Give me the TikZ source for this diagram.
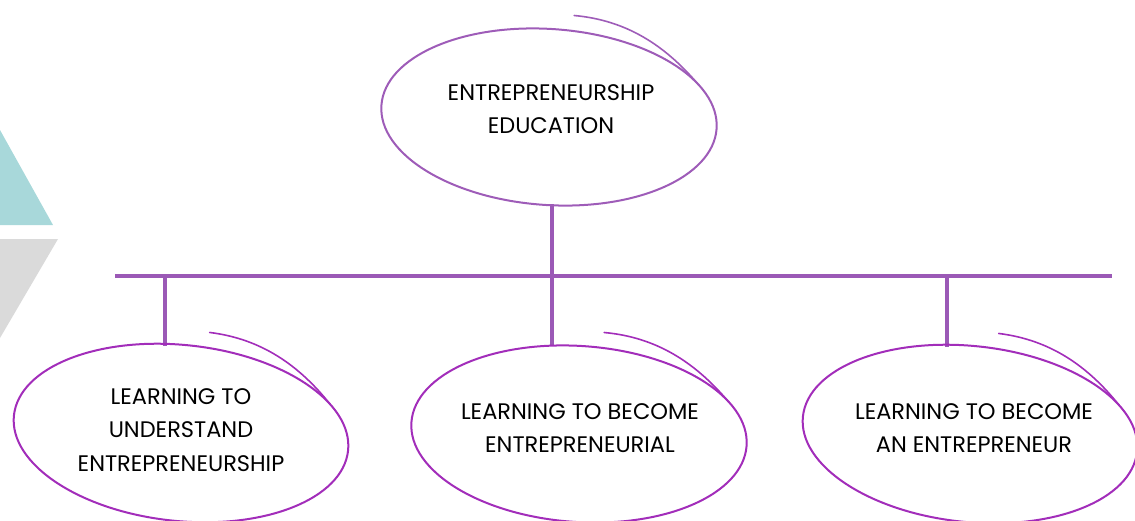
\documentclass[tikz,border=0pt]{standalone}
\usepackage{fontspec}
\setmainfont{Poppins}
\usetikzlibrary{shapes.geometric,calc}
\definecolor{teal1}{HTML}{A8D8DA}
\definecolor{gray1}{HTML}{DADADA}
\definecolor{bar}{HTML}{9B59B6}
\definecolor{ringA}{HTML}{9E5CB8}
\definecolor{ringB}{HTML}{A22DBA}
\tikzset{
  lbl/.style={shape=ellipse, draw=none, minimum width=336pt, minimum height=176pt, align=center, inner sep=0pt, font=\fontsize{22.5}{33.5}\selectfont},
  conn/.style={draw=bar, line width=4pt},
  ring/.style={line width=2pt, line cap=round},
}
\newcommand{\sketchring}[4]{% node, colour, tilt, centre offset
  \begin{scope}[shift={($(#1.center)+(#4)$)}, rotate=#3]
  \draw[ring, draw=#2] (0,0) ellipse [x radius=168, y radius=88];
  \draw[ring, draw=#2, line width=1.6pt] (18,-103) .. controls (70,-102) and (110,-80) .. (-30:168 and 88);
  \end{scope}
}
\begin{document}
\begin{tikzpicture}[x=1pt,y=-1pt]
\useasboundingbox (0,0) rectangle (1135,520);
\clip (0,0) rectangle (1135,520);
\fill[teal1] (0,130) -- (53,225) -- (0,225) -- cycle;
\fill[gray1] (0,239) -- (58,239) -- (0,338) -- cycle;

\node[lbl] (edu) at (551,109) {ENTREPRENEURSHIP\\EDUCATION};
\node[lbl] (und) at (181,430) {LEARNING TO\\UNDERSTAND\\ENTREPRENEURSHIP};
\node[lbl] (ent) at (580,428) {LEARNING TO BECOME\\ENTREPRENEURIAL};
\node[lbl] (anent) at (974,428) {LEARNING TO BECOME\\AN ENTREPRENEUR};

\coordinate (busL) at (115,276);
\coordinate (busR) at (1112,276);
\coordinate (busM) at (552,276);
\coordinate (bus1) at (165,276);
\coordinate (bus3) at (947,276);

\draw[conn] (busL) -- (busR);
\draw[conn] (busM) -- (busM |- 0,204);
\draw[conn] (bus1) -- (bus1 |- 0,346);
\draw[conn] (busM) -- (busM |- 0,346);
\draw[conn] (bus3) -- (bus3 |- 0,347);

\sketchring{edu}{ringA}{-4}{-2,8}
\sketchring{und}{ringB}{-6}{0,3}
\sketchring{ent}{ringB}{-4}{-1,6}
\sketchring{anent}{ringB}{-6}{-4,6}
\end{tikzpicture}
\end{document}
